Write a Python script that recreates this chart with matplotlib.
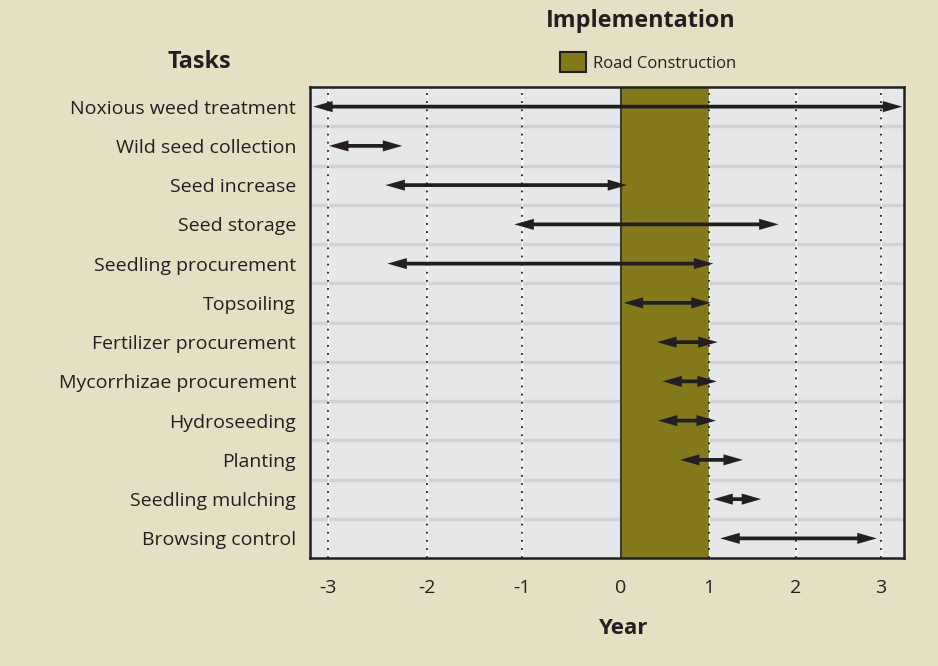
import numpy as np
import matplotlib
matplotlib.use("Agg")
import matplotlib.pyplot as plt
from matplotlib.patches import Patch

plt.rcParams['font.family'] = ['Open Sans', 'DejaVu Sans']

tasks = ["Noxious weed treatment", "Wild seed collection", "Seed increase",
         "Seed storage", "Seedling procurement", "Topsoiling",
         "Fertilizer procurement", "Mycorrhizae procurement", "Hydroseeding",
         "Planting", "Seedling mulching", "Browsing control"]
start = [-3.15, -2.99, -2.42, -1.08, -2.40, 0.03, 0.41, 0.47, 0.42, 0.67, 1.05, 1.13]
end = [3.25, -2.25, 0.07, 1.80, 1.05, 1.02, 1.10, 1.09, 1.08, 1.39, 1.60, 2.95]
years = [-3, -2, -1, 0, 1, 2, 3]
road_start, road_end = 0, 1

# non-uniform year axis as drawn in the original (piecewise linear scale)
knot_year = [-100, -3, -2, -1, 0, 1, 2, 3, 100]
knot_pos = [328 - 97 * 99, 328, 427, 522, 621, 709, 796, 881, 881 + 97 * 85]

def fwd(x):
    return np.interp(x, knot_year, knot_pos)

def inv(p):
    return np.interp(p, knot_pos, knot_year)

BG = '#E5DFC4'
PLOT = '#E6E7E8'
SEP = '#D1D2D4'
OLIVE = '#857A1B'
DARK = '#231F20'

fig = plt.figure(figsize=(9.38, 6.66), dpi=100, facecolor=BG)
ax = fig.add_axes([310 / 938, 108 / 666, 594 / 938, 471 / 666])
ax.set_facecolor(PLOT)
ax.set_xscale('function', functions=(fwd, inv))
ax.set_xlim(-3.182, 3.271)
n = len(tasks)
ax.set_ylim(n - 0.5, -0.5)

for k in range(n - 1):
    ax.axhline(k + 0.5, color=SEP, lw=2.5, zorder=0.5)

ax.axvspan(road_start, road_end, color=OLIVE, zorder=1, lw=0)
ax.axvline(road_start, color='#3a3a3a', lw=1.5, zorder=2)

for yv in years:
    if yv == 0:
        continue
    ax.axvline(yv, color='white', lw=1.0, zorder=2)
    ax.axvline(yv, color=DARK, lw=1.3, ls=(0, (1, 3.5)), zorder=2.1)

for i in range(n):
    # shaft
    ax.annotate('', xy=(end[i], i), xytext=(start[i], i),
                arrowprops=dict(arrowstyle='-', color=DARK, lw=2.7,
                                shrinkA=8, shrinkB=8, capstyle='butt'),
                zorder=5)
    # heads (filled, no stroke)
    ax.annotate('', xy=(end[i], i), xytext=(start[i], i),
                arrowprops=dict(arrowstyle='<|-|>,head_length=1.4,head_width=0.4',
                                facecolor=DARK, edgecolor='none', lw=0,
                                shrinkA=0, shrinkB=0, mutation_scale=10),
                zorder=5)

ax.set_xticks(years)
ax.set_xticklabels([str(y) for y in years])
ax.set_yticks(range(n))
ax.set_yticklabels(tasks)
ax.tick_params(axis='x', length=0, pad=15, labelsize=14, colors=DARK)
ax.tick_params(axis='y', length=0, pad=10, labelsize=14, colors=DARK)
ax.minorticks_off()
for s in ax.spines.values():
    s.set_color(DARK)
    s.set_linewidth(1.8)
    s.set_zorder(6)

fig.text(641 / 938, 1 - 21 / 666, 'Implementation', ha='center', va='center',
         fontsize=16.8, fontweight='bold', color=DARK)
fig.text(199 / 938, 1 - 62 / 666, 'Tasks', ha='center', va='center',
         fontsize=16.8, fontweight='bold', color=DARK)
fig.text(623 / 938, 1 - 628 / 666, 'Year', ha='center', va='center',
         fontsize=16, fontweight='bold', color=DARK)

handle = Patch(facecolor=OLIVE, edgecolor=DARK, lw=1.5, label='Road Construction')
fig.legend(handles=[handle], loc='center', bbox_to_anchor=(648 / 938, 1 - 62 / 666),
           frameon=False, fontsize=12, handlelength=1.6, handleheight=1.5,
           handletextpad=0.4, labelcolor=DARK)

fig.savefig('out.png', dpi=100, facecolor=BG)
